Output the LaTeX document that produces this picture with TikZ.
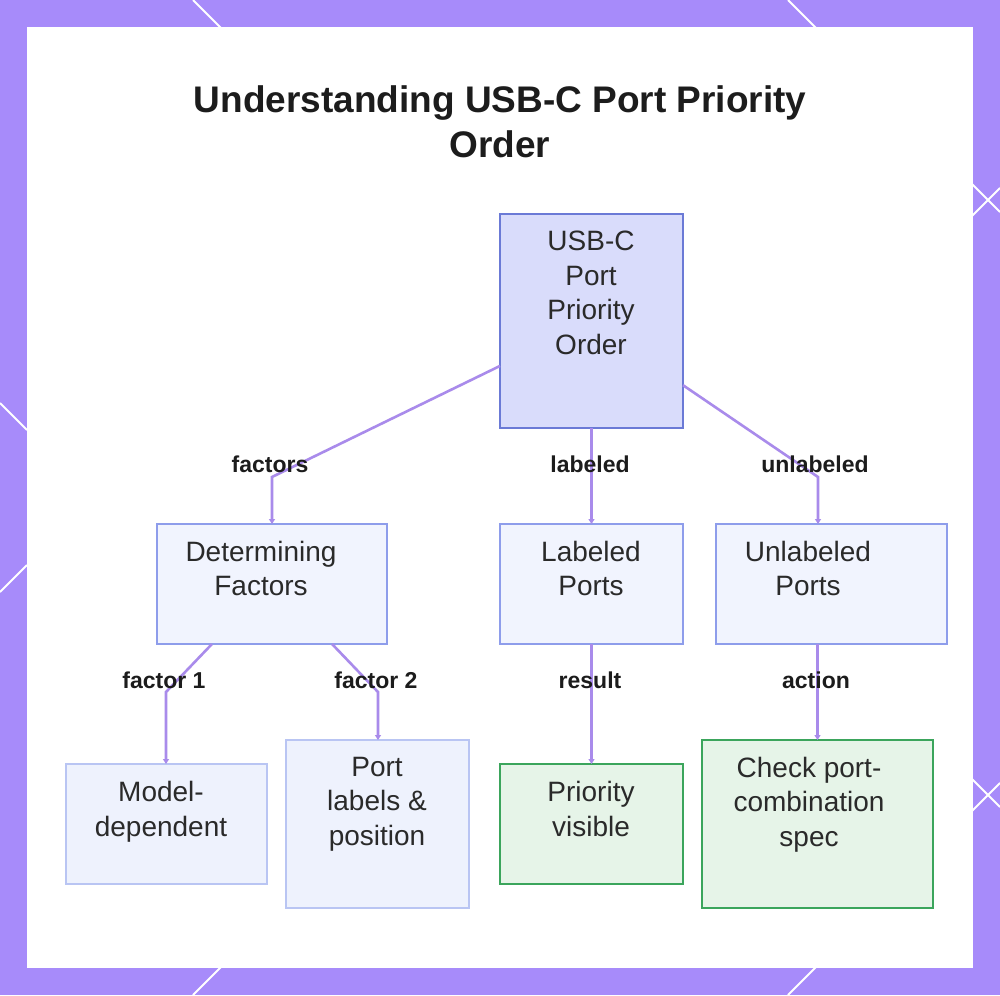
\documentclass[tikz,border=0pt]{standalone}
\usepackage{fontspec}
\setmainfont{Liberation Sans}
\usetikzlibrary{arrows.meta,calc}
\definecolor{framecol}{HTML}{A78BFA}
\definecolor{rootfill}{HTML}{D9DCFB}
\definecolor{rootline}{HTML}{6B7AD6}
\definecolor{midfill}{HTML}{F1F4FE}
\definecolor{midline}{HTML}{8E9DEB}
\definecolor{leaffill}{HTML}{EEF2FD}
\definecolor{leafline}{HTML}{B9C5F3}
\definecolor{greenfill}{HTML}{E6F4E8}
\definecolor{greenline}{HTML}{3BA55C}
\definecolor{edgecol}{HTML}{A98BEB}
\definecolor{txtcol}{HTML}{2A2A2A}
\definecolor{labcol}{HTML}{1C1C1C}
\newcommand\mkbox[6]{%
  \node[#6, minimum width={#4-#2}, minimum height={#5-#3}] (#1) at ({(#2+#4)/2},{(#3+#5)/2}) {};}
\begin{document}
\begin{tikzpicture}[x=1pt,y=-1pt,
  rootbox/.style={draw=rootline, fill=rootfill, line width=2.2pt, inner sep=0, outer sep=0},
  midbox/.style={draw=midline, fill=midfill, line width=2pt, inner sep=0, outer sep=0},
  leafbox/.style={draw=leafline, fill=leaffill, line width=2pt, inner sep=0, outer sep=0},
  greenbox/.style={draw=greenline, fill=greenfill, line width=2.5pt, inner sep=0, outer sep=0},
  boxtext/.style={font=\fontsize{28}{34.5}\selectfont, text=txtcol, align=center, inner sep=0, anchor=north},
  edgelabel/.style={font=\bfseries\fontsize{23}{28}\selectfont, text=labcol, anchor=base, inner sep=0},
  conn/.style={draw=edgecol, line width=2.6pt, -{Triangle[length=5pt,width=6pt]}},
  deco/.style={draw=white, line width=2pt}]
\useasboundingbox (0,0) rectangle (1000,995);
\fill[framecol] (0,0) rectangle (1000,995);
% decorative lines in the frame
\draw[deco] (193,0) -- (1000,807);
\draw[deco] (788,0) -- (1000,212);
\draw[deco] (1000,188) -- (193,995);
\draw[deco] (1000,783) -- (788,995);
\draw[deco] (0,403) -- (27,430);
\draw[deco] (0,592) -- (27,565);
% panel
\fill[white] (27,27) rectangle (973,968);
% title
\node[font=\bfseries\fontsize{37}{45}\selectfont, text=labcol, align=center, anchor=north, inner sep=0] (title) at (500,85)
  {Understanding USB-C Port Priority\\Order};
% boxes
\mkbox{root}{500}{214}{683}{428}{rootbox}
\mkbox{df}{157}{524}{387}{644}{midbox}
\mkbox{lp}{500}{524}{683}{644}{midbox}
\mkbox{ul}{716}{524}{947}{644}{midbox}
\mkbox{md}{66}{764}{267}{884}{leafbox}
\mkbox{pl}{286}{740}{469}{908}{leafbox}
\mkbox{pv}{500}{764}{683}{884}{greenbox}
\mkbox{ck}{702}{740}{933}{908}{greenbox}
% box texts
\node[boxtext] (root-t) at (591,231) {USB-C\\Port\\Priority\\Order};
\node[boxtext] (df-t) at (261,541) {Determining\\Factors};
\node[boxtext] (lp-t) at (591,541) {Labeled\\Ports};
\node[boxtext] (ul-t) at (808,541) {Unlabeled\\Ports};
\node[boxtext] (md-t) at (161,781) {Model-\\dependent};
\node[boxtext] (pl-t) at (377,757) {Port\\labels \&\\position};
\node[boxtext] (pv-t) at (591,781) {Priority\\visible};
\node[boxtext] (ck-t) at (809,757) {Check port-\\combination\\spec};
% bend points
\coordinate (b1) at (272,477);
\coordinate (b3) at (818,477);
\coordinate (b4) at (166,692);
\coordinate (b5) at (378,692);
% connectors
\draw[conn] ($(root.south west)!0.29!(root.north west)$) -- (b1) -- (b1 |- df.north);
\draw[conn] (root.south) -- (lp.north);
\draw[conn] ($(root.south east)!0.2!(root.north east)$) -- (b3) -- (b3 |- ul.north);
\draw[conn] ($(df.south west)!0.239!(df.south east)$) -- (b4) -- (b4 |- md.north);
\draw[conn] ($(df.south west)!0.761!(df.south east)$) -- (b5) -- (b5 |- pl.north);
\draw[conn] (lp.south) -- (pv.north);
\draw[conn] (ck.north |- ul.south) -- (ck.north);
% edge labels
\node[edgelabel] (l1) at (270,472) {factors};
\node[edgelabel] (l2) at (590,472) {labeled};
\node[edgelabel] (l3) at (815,472) {unlabeled};
\node[edgelabel] (l4) at (164,688) {factor 1};
\node[edgelabel] (l5) at (376,688) {factor 2};
\node[edgelabel] (l6) at (590,688) {result};
\node[edgelabel] (l7) at (816,688) {action};
\end{tikzpicture}
\end{document}
